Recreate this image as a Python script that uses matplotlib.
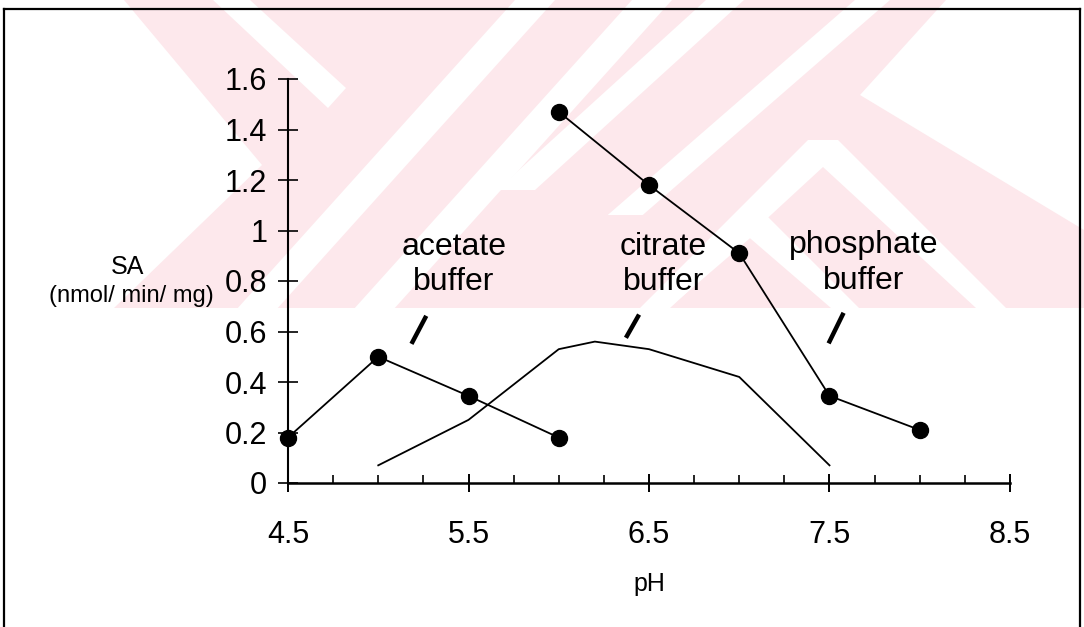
import matplotlib
matplotlib.use("Agg")
import matplotlib.pyplot as plt
from matplotlib.patches import Polygon
from matplotlib.lines import Line2D

plt.rcParams['font.family'] = ['Liberation Sans', 'DejaVu Sans']

# ---- data ----
acetate_ph = [4.5, 5.0, 5.5, 6.0]
acetate_sa = [0.18, 0.50, 0.345, 0.18]

citrate_ph = [5.0, 5.5, 6.0, 6.2, 6.5, 7.0, 7.5]
citrate_sa = [0.07, 0.25, 0.53, 0.56, 0.53, 0.42, 0.07]

phosphate_ph = [6.0, 6.5, 7.0, 7.5, 8.0]
phosphate_sa = [1.47, 1.18, 0.91, 0.345, 0.21]

x_ticks = [4.5, 5.5, 6.5, 7.5, 8.5]
x_ticklabels = ['4.5', '5.5', '6.5', '7.5', '8.5']
y_ticks = [0, 0.2, 0.4, 0.6, 0.8, 1.0, 1.2, 1.4, 1.6]
y_ticklabels = ['0', '0.2', '0.4', '0.6', '0.8', '1', '1.2', '1.4', '1.6']

labels = ['acetate\nbuffer', 'citrate\nbuffer', 'phosphate\nbuffer']
label_x = [5.42, 6.58, 7.69]
label_y = [0.865, 0.865, 0.87]
# short leader slashes (x0, x1, y0, y1)
slash_x = [(5.184, 5.266), (6.372, 6.445), (7.495, 7.578)]
slash_y = [(0.551, 0.662), (0.575, 0.667), (0.553, 0.674)]

W, H = 1084, 627
fig = plt.figure(figsize=(W / 100, H / 100), dpi=100)
fig.patch.set_facecolor('white')

# ---- faint background watermark (pixel coords, y down) ----
WM_BOTTOM = 308


def stripe(x_top, width, slope, y0=0, y1=WM_BOTTOM):
    """parallelogram stripe between rows y0 and y1; x shifts by slope per row"""
    a0, a1 = x_top + slope * y0, x_top + width + slope * y0
    b0, b1 = x_top + slope * y1, x_top + width + slope * y1
    return [(a0, y0), (a1, y0), (b1, y1), (b0, y1)]


def chevron(ax_, ay_, left_end, right_end, w):
    """white inverted-V stripe with apex (ax_, ay_)"""
    return [(ax_ - w / 2, ay_), (ax_ + w / 2, ay_),
            (right_end + w / 2, WM_BOTTOM), (right_end - w / 2, WM_BOTTOM),
            (ax_, ay_ + w * 0.9),
            (left_end + w / 2, WM_BOTTOM), (left_end - w / 2, WM_BOTTOM)]


def px(pts):
    return [(min(max(x, 0), W) / W, 1 - y / H) for x, y in pts]


pink = '#fde8ec'
wm_pink = [[(124, 0), (946, 0), (860, 95), (1084, 230), (1084, 308),
            (114, 308), (262, 165)]]
wm_white = [
    [(213, 0), (250, 0), (346, 88), (328, 108)],
    stripe(515, 40, -0.9),
    stripe(632, 40, -0.9),
    stripe(706, 38, -1.1, 0, 190),
    stripe(855, 35, -1.15, 0, 215),
    chevron(823, 140, 655, 991, 30),
    chevron(750, 213, 655, 845, 28),
]
for poly in wm_pink:
    fig.patches.append(Polygon(px(poly), closed=True, transform=fig.transFigure,
                               facecolor=pink, edgecolor='none', zorder=-2))
for poly in wm_white:
    fig.patches.append(Polygon(px(poly), closed=True, transform=fig.transFigure,
                               facecolor='white', edgecolor='none', zorder=-1))

# ---- frame ----
fl, ft, fr = 4 / W, 1 - 9 / H, 1080 / W
for xs, ys in [([fl, fl], [0, ft]), ([fl, fr], [ft, ft]), ([fr, fr], [ft, 0])]:
    fig.add_artist(Line2D(xs, ys, transform=fig.transFigure, color='black', lw=1.6))

ax = fig.add_axes([288 / W, 1 - 483 / H, (1010 - 288) / W, (483 - 79) / H])
ax.set_zorder(2)
ax.patch.set_alpha(0)

ax.plot(acetate_ph, acetate_sa, color='black', lw=1.3, marker='o', ms=11.5,
        clip_on=False, zorder=3)
ax.plot(citrate_ph, citrate_sa, color='black', lw=1.3, clip_on=False, zorder=3)
ax.plot(phosphate_ph, phosphate_sa, color='black', lw=1.3, marker='o', ms=11.5,
        clip_on=False, zorder=3)

for t, x, y in zip(labels, label_x, label_y):
    ax.text(x, y, t, ha='center', va='center', fontsize=23, linespacing=1.25)
for (x0, x1), (y0, y1) in zip(slash_x, slash_y):
    ax.plot([x0, x1], [y0, y1], color='black', lw=3.2, solid_capstyle='butt')

ax.set_xlim(4.5, 8.5)
ax.set_ylim(0, 1.6)
ax.spines['top'].set_visible(False)
ax.spines['right'].set_visible(False)
ax.spines['left'].set_linewidth(1.5)
ax.spines['bottom'].set_linewidth(1.8)

ax.set_xticks(x_ticks)
ax.set_xticklabels(x_ticklabels)
ax.set_xticks([4.75, 5.0, 5.25, 5.75, 6.0, 6.25, 6.75, 7.0, 7.25, 7.75, 8.0, 8.25], minor=True)
ax.set_yticks(y_ticks)
ax.set_yticklabels(y_ticklabels)

ax.tick_params(axis='x', which='major', direction='inout', length=13, width=1.4,
               pad=20, labelsize=22)
ax.tick_params(axis='x', which='minor', direction='in', length=6, width=1.2)
ax.tick_params(axis='y', which='major', direction='inout', length=14, width=1.2,
               pad=8, labelsize=22)

ax.set_xlabel('pH', fontsize=18, labelpad=16)
fig.text(128 / W, 1 - 267 / H, 'SA', ha='center', va='center', fontsize=18)
fig.text(131 / W, 1 - 296 / H, '(nmol/ min/ mg)', ha='center', va='center', fontsize=17)

fig.savefig('out.png', dpi=100, facecolor='white')
